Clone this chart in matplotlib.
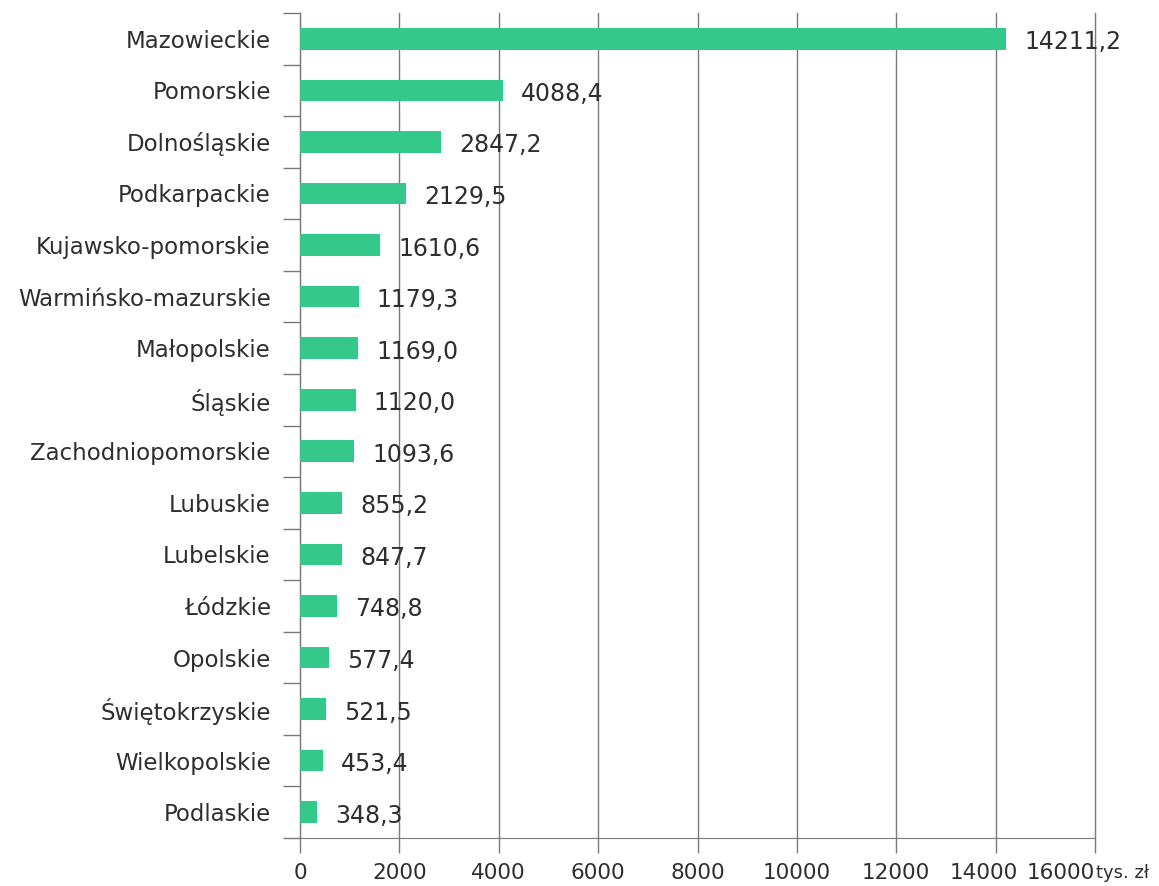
import numpy as np
import matplotlib.pyplot as plt
from matplotlib.transforms import ScaledTranslation

# dane: województwa i wartości (tys. zł)
regiony = ['Mazowieckie', 'Pomorskie', 'Dolnośląskie', 'Podkarpackie',
           'Kujawsko-pomorskie', 'Warmińsko-mazurskie', 'Małopolskie', 'Śląskie',
           'Zachodniopomorskie', 'Lubuskie', 'Lubelskie', 'Łódzkie', 'Opolskie',
           'Świętokrzyskie', 'Wielkopolskie', 'Podlaskie']
wartosci = [14211.2, 4088.4, 2847.2, 2129.5, 1610.6, 1179.3, 1169.0, 1120.0,
            1093.6, 855.2, 847.7, 748.8, 577.4, 521.5, 453.4, 348.3]
xticks = [0, 2000, 4000, 6000, 8000, 10000, 12000, 14000, 16000]

plt.rcParams['font.family'] = ['DejaVu Sans']
txt = '#2e2e2e'
linia = '#7a7a7a'

fig = plt.figure(figsize=(11.59, 8.86), dpi=100)
ax = fig.add_axes([300/1159, 1 - 838/886, 795/1159, 825/886])

n = len(regiony)
y = np.arange(n)[::-1]
ax.barh(y, wartosci, height=0.42, color='#35c88b', zorder=3)

for yi, v in zip(y, wartosci):
    lab = f'{v:.1f}'.replace('.', ',')
    ax.annotate(lab, xy=(v, yi), xytext=(13, -2.5), textcoords='offset points',
                va='center', ha='left', fontsize=17, color=txt, zorder=4)

ax.set_xlim(0, 16000)
ax.set_ylim(-0.5, n - 0.5)
ax.set_xticks(xticks)
ax.set_xticklabels([str(t) for t in xticks], fontsize=15.5, color=txt)
ax.tick_params(axis='x', length=11, width=1, color=linia, pad=7)

# ostatnie etykiety przesunięte w lewo, jak w oryginale
labs = ax.get_xticklabels()
labs[-1].set_ha('right')
labs[-2].set_transform(labs[-2].get_transform() + ScaledTranslation(-12/100, 0, fig.dpi_scale_trans))

# ticki na granicach kategorii, etykiety w środku
ax.set_yticks(np.arange(-0.5, n, 1.0))
ax.set_yticklabels([])
ax.set_yticks(y, minor=True)
ax.set_yticklabels(regiony, minor=True, fontsize=16.5, color=txt)
ax.tick_params(axis='y', which='major', length=12, width=1, color=linia)
ax.tick_params(axis='y', which='minor', length=0, pad=21)

ax.grid(axis='x', color=linia, linewidth=1, zorder=0)
for gl in ax.get_xgridlines():
    gl.set_clip_on(False)
for s in ['top', 'right']:
    ax.spines[s].set_visible(False)
ax.spines['left'].set_color(linia)
ax.spines['bottom'].set_color(linia)

ax.annotate('tys. zł', xy=(1.0, 0), xycoords='axes fraction', xytext=(1, -25),
            textcoords='offset points', fontsize=13, color=txt, ha='left', va='center')

fig.savefig('out.png', dpi=100)
